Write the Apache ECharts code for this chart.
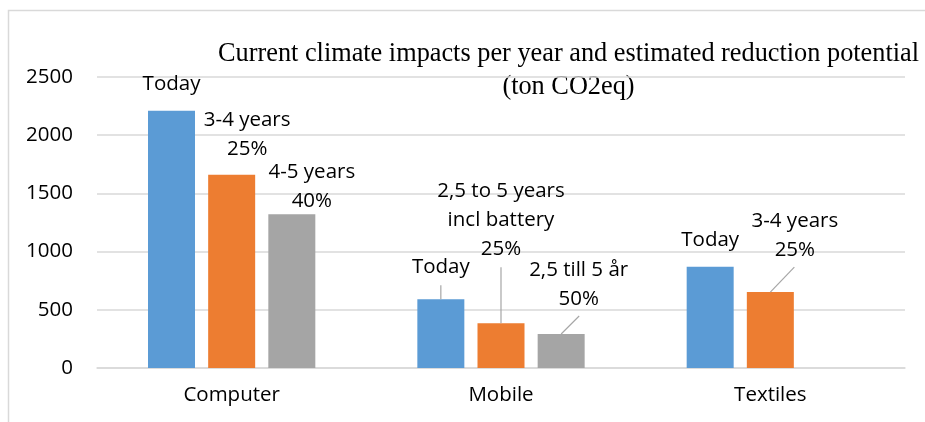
<!DOCTYPE html>
<html>
<head>
<meta charset="utf-8">
<script src="https://cdn.jsdelivr.net/npm/echarts@6/dist/echarts.min.js"></script>
<style>
html,body{margin:0;padding:0;background:#fff;}
#c{width:925px;height:422px;}
</style>
</head>
<body>
<div id="c"></div>
<script>
// ---- data ----
var categories = ['Computer', 'Mobile', 'Textiles'];
var todayValues = [2210, 590, 870];
var option1Values = [1660, 385, 652];
var option2Values = [1320, 292, null];
var todayLabels = ['Today', 'Today', 'Today'];
var option1Labels = ['3-4 years\n25%', '2,5 to 5 years\nincl battery\n25%', '3-4 years\n25%'];
var option2Labels = ['4-5 years\n40%', '2,5 till 5 år\n50%', ''];
var yTicks = [0, 500, 1000, 1500, 2000, 2500];
var titleLines = ['Current climate impacts per year and estimated reduction potential', '(ton CO2eq)'];

// ---- styling (label placement relative to bar top centre) ----
var FONT = 'Open Sans';
var LH = 29;
var labelOffsets = [
  [[0, -12], [0, -17.5], [0, -12.5]],
  [[15.5, -11.5], [0, -59.5], [24.5, -27]],
  [[20, 1], [17.5, -20.5], [0, 0]]
];
// leader lines: [series, item, dx, dy] from bar top centre
var leaders = [
  [0, 1, 0, -14],
  [1, 1, 0, -56],
  [2, 1, 18, -18],
  [1, 2, 24, -25]
];
var colors = ['#5B9BD5', '#ED7D31', '#A5A5A5'];

function makeData(values, labels, sIdx) {
  return values.map(function (v, i) {
    return {
      value: v,
      label: {
        show: !!labels[i],
        formatter: labels[i],
        offset: labelOffsets[sIdx][i]
      }
    };
  });
}

var baseLabel = {
  position: 'top',
  distance: 0,
  color: '#000',
  fontFamily: FONT,
  fontSize: 20.5,
  lineHeight: LH,
  align: 'center',
  verticalAlign: 'bottom'
};

var chart = echarts.init(document.getElementById('c'), null, {renderer: 'canvas'});
var option = {
  animation: false,
  backgroundColor: '#fff',
  grid: {left: 97, right: 20, top: 77, bottom: 54, containLabel: false},
  xAxis: {
    type: 'category',
    data: categories,
    axisTick: {show: false},
    axisLine: {show: true, lineStyle: {color: '#d9d9d9', width: 1.5}},
    axisLabel: {color: '#000', fontFamily: FONT, fontSize: 20.5, margin: 17}
  },
  yAxis: {
    type: 'value',
    min: yTicks[0],
    max: yTicks[yTicks.length - 1],
    interval: yTicks[1] - yTicks[0],
    axisLine: {show: false},
    axisTick: {show: false},
    splitLine: {lineStyle: {color: '#d9d9d9', width: 1.5}},
    axisLabel: {color: '#000', fontFamily: FONT, fontSize: 20.5, margin: 24,
                formatter: function (v) { return String(v); }}
  },
  series: [
    {name: 'Today', type: 'bar', barWidth: 47, barGap: '28%', itemStyle: {color: colors[0]},
     label: baseLabel, data: makeData(todayValues, todayLabels, 0)},
    {name: 'Option 1', type: 'bar', barWidth: 47, barGap: '28%', itemStyle: {color: colors[1]},
     label: baseLabel, data: makeData(option1Values, option1Labels, 1)},
    {name: 'Option 2', type: 'bar', barWidth: 47, barGap: '28%', itemStyle: {color: colors[2]},
     label: baseLabel, data: makeData(option2Values, option2Labels, 2)}
  ],
  graphic: [
    {id: 'frame', type: 'rect', silent: true, z: -1,
     shape: {x: 8.5, y: 10.5, width: 1200, height: 1200},
     style: {fill: null, stroke: '#d9d9d9', lineWidth: 1.5}},
    {id: 'title', type: 'text', x: 568.5, y: 37.5, silent: true,
     style: {text: titleLines.join('\n'), fill: '#000', font: '26.3px "Liberation Serif"',
             lineHeight: 33, align: 'center', verticalAlign: 'top'}}
  ]
};
chart.setOption(option);

// leader lines derived from the library's bar layout
var model = chart.getModel();
var lines = [];
leaders.forEach(function (l, k) {
  var data = model.getSeriesByIndex(l[0]).getData();
  var lay = data.getItemLayout(l[1]);
  if (!lay) return;
  var cx = lay.x + lay.width / 2;
  var top = Math.min(lay.y, lay.y + lay.height);
  lines.push({
    id: 'leader' + k, type: 'line', silent: true, z: 10,
    shape: {x1: cx, y1: top, x2: cx + l[2], y2: top + l[3]},
    style: {stroke: '#a6a6a6', lineWidth: 1.2}
  });
});
chart.setOption({graphic: lines});
</script>
</body>
</html>
